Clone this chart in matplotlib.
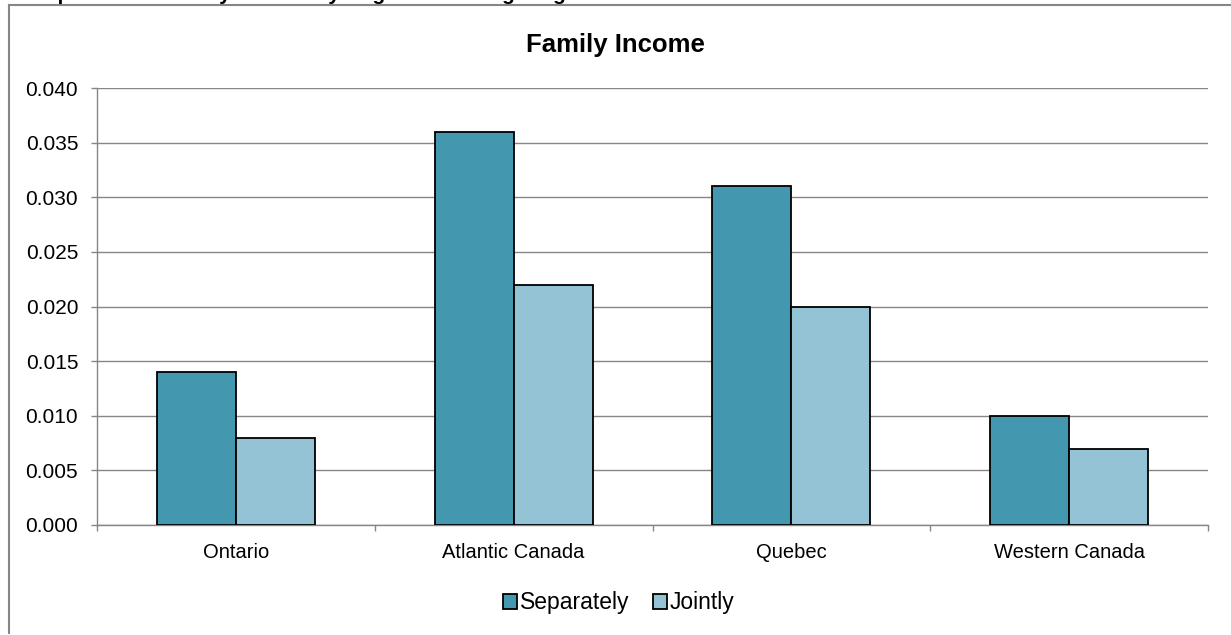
import matplotlib
matplotlib.use("Agg")
import matplotlib.pyplot as plt
from matplotlib.patches import Rectangle
from matplotlib.lines import Line2D
import numpy as np

# Data
regions = ["Ontario", "Atlantic Canada", "Quebec", "Western Canada"]
separately = [0.014, 0.036, 0.031, 0.010]
jointly = [0.008, 0.022, 0.020, 0.007]
series_names = ["Separately", "Jointly"]
y_ticks = [0.000, 0.005, 0.010, 0.015, 0.020, 0.025, 0.030, 0.035, 0.040]
chart_title = "Family Income"
heading = "Comparison of Family Income by Region and Weighting"

plt.rcParams['font.family'] = ['Liberation Sans', 'DejaVu Sans']

W, H = 1231, 635
fig = plt.figure(figsize=(W / 100, H / 100), dpi=100)

grey = "#868686"
c_sep = "#4398B0"
c_joint = "#93C3D5"

# Plot area in pixel bounds
left, right, top, bottom = 97, 1208, 88, 525
ax = fig.add_axes([left / W, 1 - bottom / H, (right - left) / W, (bottom - top) / H])

x = np.arange(len(regions))
bw = 0.284
ax.bar(x - bw / 2, separately, bw, color=c_sep, edgecolor="black", linewidth=1.3, zorder=3)
ax.bar(x + bw / 2, jointly, bw, color=c_joint, edgecolor="black", linewidth=1.3, zorder=3)

ax.set_xlim(-0.5, len(regions) - 0.5)
ax.set_ylim(0, 0.040)
ax.set_yticks(y_ticks)
ax.set_yticklabels([f"{v:.3f}" for v in y_ticks], fontsize=15)
ax.yaxis.grid(True, color=grey, linewidth=1.0, zorder=0)
ax.set_axisbelow(True)

ax.set_xticks(x)
ax.set_xticklabels(regions, fontsize=14.5)
ax.set_xticks(np.arange(len(regions) + 1) - 0.5, minor=True)
ax.tick_params(axis="x", which="major", length=0, pad=13)
ax.tick_params(axis="x", which="minor", length=4.5, width=1.0, color=grey, direction="out")
ax.tick_params(axis="y", length=4.5, width=1.0, color=grey, direction="out", pad=9)

for s in ["top", "right"]:
    ax.spines[s].set_visible(False)
for s in ["left", "bottom"]:
    ax.spines[s].set_color(grey)
    ax.spines[s].set_linewidth(1.0)

# Chart title
fig.text(615 / W, 1 - 45 / H, chart_title, ha="center", va="center",
         fontsize=18.5, fontweight="bold")

# Legend
handles = [Rectangle((0, 0), 1, 1, facecolor=c_sep, edgecolor="black", linewidth=1.3),
           Rectangle((0, 0), 1, 1, facecolor=c_joint, edgecolor="black", linewidth=1.3)]
fig.legend(handles, series_names, loc="center", bbox_to_anchor=(619 / W, 1 - 603 / H),
           ncol=2, frameon=False, fontsize=16.5, handlelength=0.6, handleheight=0.6,
           handletextpad=0.15, columnspacing=1.0, borderpad=0)

# Chart frame (left and top edges)
fig.add_artist(Line2D([8.5 / W, 8.5 / W], [1 - 633 / H, 1 - 4.5 / H], color=grey, linewidth=1.5,
                      transform=fig.transFigure))
fig.add_artist(Line2D([8.5 / W, 1.0], [1 - 4.5 / H, 1 - 4.5 / H], color=grey, linewidth=1.5,
                      transform=fig.transFigure))

# Heading above the chart, running off the top edge
fig.text(11 / W, 1.0, heading, ha="left", va="baseline",
         fontsize=15, fontweight="bold")

fig.savefig("out.png", dpi=100)
